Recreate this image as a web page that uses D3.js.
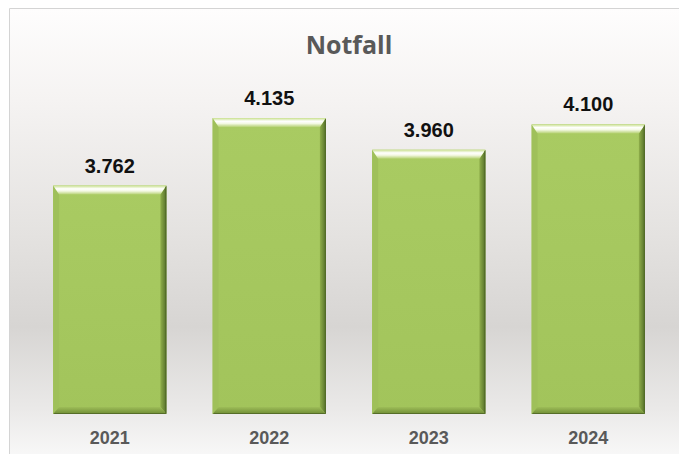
<!DOCTYPE html>
<html>
<head>
<meta charset="utf-8">
<script src="https://cdn.jsdelivr.net/npm/d3@7"></script>
<style>
  html, body { margin: 0; padding: 0; background: #fff; }
  svg { display: block; }
</style>
</head>
<body>
<div id="chart"></div>
<script>
// Data
const years = ['2021', '2022', '2023', '2024'];
const values = [3762, 4135, 3960, 4100];
const labels = ['3.762', '4.135', '3.960', '4.100'];
const title = 'Notfall';

const width = 679, height = 454;

const svg = d3.select('#chart').append('svg')
  .attr('width', width).attr('height', height);

const defs = svg.append('defs');

// background gradient (white -> gray -> white)
const bg = defs.append('linearGradient').attr('id', 'bg')
  .attr('x1', 0).attr('y1', 0).attr('x2', 0).attr('y2', 1);
[[0, '#fefdfd'], [0.2, '#f5f3f2'], [0.5, '#e4e2e0'], [0.7, '#d7d5d3'], [0.88, '#eae9e8'], [1, '#fafafa']]
  .forEach(([o, c]) => bg.append('stop').attr('offset', o).attr('stop-color', c));

// top bevel: light with white highlight
const topG = defs.append('linearGradient').attr('id', 'bevTop')
  .attr('x1', 0).attr('y1', 0).attr('x2', 0).attr('y2', 1);
[[0, '#c9e08f'], [0.35, '#ffffff'], [0.6, '#f4f9e4'], [1, '#b5d172']]
  .forEach(([o, c]) => topG.append('stop').attr('offset', o).attr('stop-color', c));

const rightG = defs.append('linearGradient').attr('id', 'bevRight')
  .attr('x1', 0).attr('y1', 0).attr('x2', 1).attr('y2', 0);
[[0, '#8fae4a'], [1, '#55702a']]
  .forEach(([o, c]) => rightG.append('stop').attr('offset', o).attr('stop-color', c));

const botG = defs.append('linearGradient').attr('id', 'bevBot')
  .attr('x1', 0).attr('y1', 0).attr('x2', 0).attr('y2', 1);
[[0, '#9dbd58'], [1, '#6f8c35']]
  .forEach(([o, c]) => botG.append('stop').attr('offset', o).attr('stop-color', c));

const faceG = defs.append('linearGradient').attr('id', 'face')
  .attr('x1', 0).attr('y1', 0).attr('x2', 0).attr('y2', 1);
[[0, '#a9cb62'], [1, '#a2c45b']]
  .forEach(([o, c]) => faceG.append('stop').attr('offset', o).attr('stop-color', c));

// frame + background
svg.append('rect')
  .attr('x', 9).attr('y', 9).attr('width', width).attr('height', height)
  .attr('fill', 'url(#bg)');
svg.append('path')
  .attr('d', `M9.5,${height} V8.5 H${width}`)
  .attr('fill', 'none').attr('stroke', '#d4d4d4').attr('stroke-width', 1);

// scales
const x = d3.scaleBand().domain(years).range([30, 668])
  .paddingInner(0.29).paddingOuter(0.145);
const y = d3.scaleLinear().domain([2500, 4500]).range([414, 52]);

// title
svg.append('text')
  .attr('x', 349).attr('y', 54)
  .attr('text-anchor', 'middle')
  .attr('font-family', '"Open Sans", "DejaVu Sans", sans-serif')
  .attr('font-weight', 'bold').attr('font-size', 25)
  .attr('fill', '#595959')
  .text(title);

// bars with bevel
const bt = 9, bs = 6, bb = 7;
const bars = svg.append('g').selectAll('g')
  .data(years).join('g');

bars.each(function (d, i) {
  const g = d3.select(this);
  const x0 = x(d), x1 = x(d) + x.bandwidth();
  const y0 = y(values[i]), y1 = y(2500);
  // face
  g.append('rect').attr('x', x0).attr('y', y0)
    .attr('width', x1 - x0).attr('height', y1 - y0).attr('fill', 'url(#face)');
  // left bevel
  g.append('polygon')
    .attr('points', [[x0, y0], [x0 + bs, y0 + bt], [x0 + bs, y1 - bb], [x0, y1]].join(' '))
    .attr('fill', '#9fc05a');
  // right bevel
  g.append('polygon')
    .attr('points', [[x1, y0], [x1 - bs, y0 + bt], [x1 - bs, y1 - bb], [x1, y1]].join(' '))
    .attr('fill', 'url(#bevRight)');
  // bottom bevel
  g.append('polygon')
    .attr('points', [[x0, y1], [x0 + bs, y1 - bb], [x1 - bs, y1 - bb], [x1, y1]].join(' '))
    .attr('fill', 'url(#bevBot)');
  // top bevel
  g.append('polygon')
    .attr('points', [[x0, y0], [x1, y0], [x1 - bs, y0 + bt], [x0 + bs, y0 + bt]].join(' '))
    .attr('fill', 'url(#bevTop)');
  // dark edge on right and bottom
  g.append('path')
    .attr('d', `M${x1 - 0.5},${y0 + 1} V${y1 - 0.5} H${x0 + 1}`)
    .attr('fill', 'none').attr('stroke', '#4d6424').attr('stroke-width', 1).attr('opacity', 0.8);
});

// value labels
svg.append('g').selectAll('text')
  .data(years).join('text')
  .attr('x', d => x(d) + x.bandwidth() / 2)
  .attr('y', (d, i) => y(values[i]) - 13)
  .attr('text-anchor', 'middle')
  .attr('font-family', '"Liberation Sans", Arial, sans-serif')
  .attr('font-weight', 'bold').attr('font-size', 20)
  .attr('fill', '#111')
  .text((d, i) => labels[i]);

// category axis labels
svg.append('g').selectAll('text')
  .data(years).join('text')
  .attr('x', d => x(d) + x.bandwidth() / 2)
  .attr('y', 444)
  .attr('text-anchor', 'middle')
  .attr('font-family', '"Liberation Sans", Arial, sans-serif')
  .attr('font-weight', 'bold').attr('font-size', 18)
  .attr('fill', '#595959')
  .text(d => d);
</script>
</body>
</html>
